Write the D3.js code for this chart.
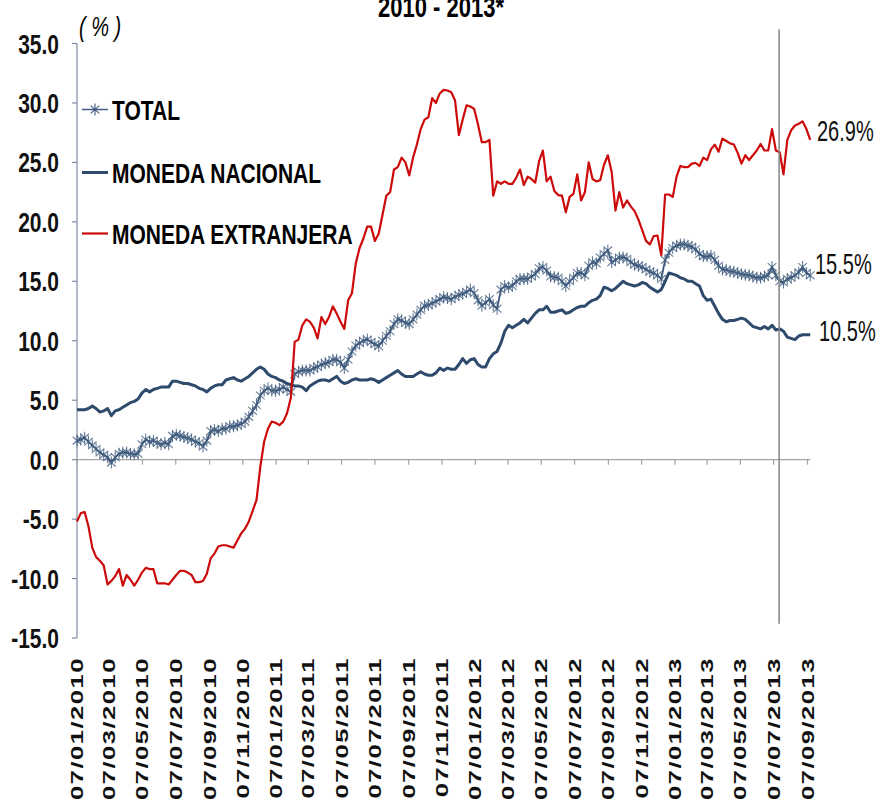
<!DOCTYPE html>
<html>
<head>
<meta charset="utf-8">
<script src="https://cdn.jsdelivr.net/npm/d3@7"></script>
<style>
  html, body { margin: 0; padding: 0; background: #fff; }
  svg { display: block; }
  text { font-family: "Liberation Sans", Arial, sans-serif; }
</style>
</head>
<body>
<svg id="chart" width="879" height="804"></svg>
<script>
// ---------- DATA ----------
const titleText = "2010 - 2013*";
const unitText = "( % )";
const startDate = "07/01/2010";           // first weekly observation
const xTickLabels = ["07/01/2010","07/03/2010","07/05/2010","07/07/2010","07/09/2010","07/11/2010",
  "07/01/2011","07/03/2011","07/05/2011","07/07/2011","07/09/2011","07/11/2011",
  "07/01/2012","07/03/2012","07/05/2012","07/07/2012","07/09/2012","07/11/2012",
  "07/01/2013","07/03/2013","07/05/2013","07/07/2013","07/09/2013"];
const yTicks = [-15, -10, -5, 0, 5, 10, 15, 20, 25, 30, 35];
const markerDate = "17/07/2013";          // vertical reference line
const seriesNames = ["TOTAL", "MONEDA NACIONAL", "MONEDA EXTRANJERA"];

const total = [
  1.6,1.7,1.85,1.5,1.2,0.9,0.6,0.4,0.2,-0.25,
  0.2,0.5,0.6,0.6,0.5,0.45,0.5,1.3,1.7,1.5,
  1.6,1.4,1.3,1.4,1.3,2.0,2.1,2.0,1.9,1.8,
  1.7,1.5,1.4,1.1,1.6,2.4,2.5,2.4,2.6,2.6,
  2.8,2.8,2.9,3.0,3.2,3.6,4.1,4.6,5.4,5.8,
  6.0,5.8,5.8,5.9,6.1,5.9,5.7,7.2,7.4,7.5,
  7.5,7.5,7.7,7.8,8.0,8.1,8.2,8.4,8.4,8.2,
  7.7,8.4,9.1,9.6,9.8,10.0,10.1,9.9,9.7,9.55,
  10.0,10.4,10.8,11.4,11.8,11.7,11.5,11.4,11.8,12.2,
  12.6,12.95,13.0,13.15,13.3,13.5,13.65,13.6,13.5,13.7,
  13.85,13.95,14.1,14.3,14.0,13.4,12.95,13.2,13.5,13.0,
  12.7,14.3,14.6,14.5,14.6,15.0,15.2,15.2,15.2,15.4,
  15.6,16.1,16.2,15.9,15.4,15.35,15.3,15.0,14.6,15.0,
  15.3,15.7,15.7,15.5,16.3,16.6,16.5,17.0,17.3,17.6,
  16.6,16.8,17.0,17.0,16.9,16.6,16.4,16.3,16.2,16.0,
  15.8,15.7,15.5,15.2,16.8,17.4,17.8,18.0,18.1,18.1,
  18.0,17.9,17.7,17.3,17.1,17.1,17.15,16.8,16.3,16.0,
  15.95,15.85,15.8,15.7,15.6,15.55,15.5,15.4,15.3,15.3,
  15.4,15.5,16.2,15.5,15.0,14.9,15.2,15.3,15.5,15.75,
  16.2,15.7,15.5
];
const monedaNacional = [
  4.2,4.2,4.2,4.3,4.5,4.3,4.0,4.1,4.3,3.7,
  4.1,4.2,4.4,4.6,4.8,4.9,5.1,5.6,5.9,5.7,
  5.9,6.0,6.1,6.1,6.1,6.6,6.6,6.5,6.4,6.4,
  6.3,6.2,6.0,5.9,5.7,6.0,6.2,6.3,6.3,6.7,
  6.8,6.9,6.7,6.6,6.8,7.0,7.3,7.6,7.8,7.6,
  7.2,7.0,6.9,6.7,6.6,6.4,6.3,6.2,6.2,6.1,
  5.8,6.2,6.4,6.6,6.7,6.7,6.6,6.8,7.0,6.6,
  6.4,6.5,6.7,6.8,6.7,6.7,6.7,6.8,6.7,6.5,
  6.7,6.9,7.1,7.3,7.5,7.2,7.0,7.0,7.0,7.2,
  7.4,7.2,7.1,7.1,7.3,7.7,7.5,7.7,7.6,7.6,
  8.0,8.5,8.1,8.4,8.5,8.0,7.8,7.8,8.5,8.9,
  9.1,9.8,10.8,11.3,11.1,11.3,11.5,11.8,11.5,11.9,
  12.3,12.6,12.6,12.9,12.4,12.4,12.5,12.6,12.3,12.4,
  12.6,12.8,12.9,12.9,13.2,13.4,13.5,13.8,14.5,14.4,
  14.2,14.4,14.7,15.0,14.8,14.7,14.6,14.7,14.9,14.8,
  14.5,14.3,14.1,14.3,15.0,15.7,15.6,15.5,15.3,15.2,
  15.0,15.0,14.8,14.6,13.8,13.4,13.5,12.9,12.3,11.8,
  11.6,11.7,11.7,11.8,11.9,11.8,11.5,11.2,11.1,11.0,
  11.2,11.0,11.3,10.9,11.0,10.8,10.3,10.2,10.1,10.4,
  10.5,10.5,10.5
];
const monedaExtranjera = [
  -5.2,-4.5,-4.4,-5.6,-7.4,-8.2,-8.5,-8.9,-10.5,-10.2,
  -9.8,-9.2,-10.6,-9.7,-10.1,-10.6,-10.1,-9.5,-9.1,-9.2,
  -9.2,-10.4,-10.4,-10.4,-10.5,-10.1,-9.7,-9.35,-9.35,-9.5,
  -9.7,-10.3,-10.3,-10.2,-9.6,-8.3,-7.9,-7.3,-7.2,-7.2,
  -7.3,-7.4,-6.8,-6.2,-5.8,-5.2,-4.3,-3.4,-0.6,1.5,
  2.6,3.2,3.1,2.9,3.2,3.9,5.2,9.9,10.1,11.3,
  11.8,11.6,11.1,10.2,12.0,11.4,12.0,12.9,12.3,11.6,
  11.0,13.4,14.0,16.5,17.8,18.6,19.6,19.6,18.4,19.0,
  20.6,22.2,22.5,24.4,24.6,25.4,25.0,23.9,25.4,26.5,
  27.8,28.6,28.8,30.4,30.0,30.8,31.1,31.05,30.9,30.2,
  27.3,28.6,29.8,29.7,29.5,28.2,26.7,26.7,26.9,22.2,
  23.4,23.2,23.4,23.2,23.2,23.7,24.4,23.1,23.8,23.6,
  23.3,25.1,26.0,23.4,23.8,22.6,22.25,22.2,20.8,22.1,
  22.35,24.0,21.8,22.5,25.0,23.6,23.4,23.5,24.8,25.6,
  24.2,20.95,22.5,21.2,21.8,21.3,20.9,20.2,19.3,18.4,
  18.1,18.8,18.85,17.2,22.3,22.3,22.1,23.8,24.7,24.6,
  24.6,24.9,24.95,24.7,25.4,25.2,26.1,26.5,25.9,27.0,
  26.8,26.6,26.5,25.8,24.9,25.6,25.2,25.6,26.0,26.55,
  26.0,26.0,27.8,26.0,25.85,24.0,26.9,27.7,28.1,28.25,
  28.45,27.8,26.9
];

// ---------- STYLE ----------
const colTotal = "#3d5879", colTotalMarker = "#405c80";
const colMN = "#2e4a6c";
const colME = "#cc0a0a";
const font = '"Liberation Sans", Arial, sans-serif';

// ---------- SCALES ----------
const parse = d3.utcParse("%d/%m/%Y");
const t0 = parse(startDate);
const dates = total.map((_, i) => d3.utcDay.offset(t0, 7 * i));
const tickDates = xTickLabels.map(parse);

const x = d3.scaleUtc()
  .domain([tickDates[0], tickDates[tickDates.length - 1]])
  .range([77, 807.5]);
const y = d3.scaleLinear().domain([-15, 35]).range([638, 43.5]);

const svg = d3.select("#chart");

function stext(parent, px, py, str, o) {
  const t = parent.append("text")
    .attr("transform", `translate(${px},${py})` + (o.rot ? ` rotate(${o.rot})` : "") + ` scale(${o.sx || 1},${o.sy || 1})`)
    .attr("font-family", font)
    .attr("font-size", o.size)
    .attr("font-weight", o.weight || "normal")
    .attr("font-style", o.style || "normal")
    .attr("text-anchor", o.anchor || "start")
    .attr("fill", o.fill || "#000")
    .text(str);
  if (o.ls) t.attr("letter-spacing", o.ls);
  return t;
}

// ---------- TITLE ----------
stext(svg, 441, 17, titleText, { size: 22, weight: "bold", sy: 1.35, anchor: "middle" });
stext(svg, 79, 36, unitText, { size: 20, weight: "normal", style: "italic", sy: 1.4 });

// ---------- AXES ----------
const yAxis = svg.append("g");
yAxis.append("line")
  .attr("x1", 77).attr("x2", 77)
  .attr("y1", y(35)).attr("y2", y(-15))
  .attr("stroke", "#7d8ca3").attr("stroke-width", 1.2);
yTicks.forEach(v => {
  yAxis.append("line")
    .attr("x1", 72).attr("x2", 77)
    .attr("y1", y(v)).attr("y2", y(v))
    .attr("stroke", "#7d8ca3").attr("stroke-width", 1.2);
  stext(yAxis, 59, y(v) + 10, v.toFixed(1), { size: 21, weight: "bold", sy: 1.35, anchor: "end", fill: "#111" });
});

const xAxis = svg.append("g");
xAxis.append("line")
  .attr("x1", x(dates[0])).attr("x2", x(dates[dates.length - 1]))
  .attr("y1", y(0)).attr("y2", y(0))
  .attr("stroke", "#a3a3a3").attr("stroke-width", 1.2);
tickDates.forEach((d, i) => {
  const xp = x(d);
  xAxis.append("line")
    .attr("x1", xp).attr("x2", xp)
    .attr("y1", y(0)).attr("y2", y(0) + 5)
    .attr("stroke", "#a3a3a3").attr("stroke-width", 1.2);
  stext(xAxis, xp + 6, 657, xTickLabels[i], { size: 16.8, weight: "bold", rot: -90, sx: 1.52, anchor: "end", ls: 1, fill: "#111" });
});

// ---------- SERIES ----------
const line = d3.line().x((d, i) => x(dates[i])).y(d => y(d));

svg.append("path").datum(total)
  .attr("d", line).attr("fill", "none")
  .attr("stroke", colTotal).attr("stroke-width", 1.8);

const rx = 4.3, ry = 6;
const starPath = `M${-rx},${-ry * 0.65}L${rx},${ry * 0.65}M${-rx},${ry * 0.65}L${rx},${-ry * 0.65}M0,${-ry}L0,${ry}`;
svg.append("g").selectAll("path").data(total).join("path")
  .attr("transform", (d, i) => `translate(${x(dates[i])},${y(d)})`)
  .attr("d", starPath)
  .attr("fill", "none")
  .attr("stroke", colTotalMarker).attr("stroke-width", 1.1).attr("stroke-opacity", 0.8);

svg.append("path").datum(monedaNacional)
  .attr("d", line).attr("fill", "none")
  .attr("stroke", colMN).attr("stroke-width", 3).attr("stroke-linejoin", "round");

svg.append("path").datum(monedaExtranjera)
  .attr("d", line).attr("fill", "none")
  .attr("stroke", colME).attr("stroke-width", 2.2).attr("stroke-linejoin", "round");

// vertical reference line
svg.append("line")
  .attr("x1", x(parse(markerDate))).attr("x2", x(parse(markerDate)))
  .attr("y1", y(36.2)).attr("y2", y(-13.8))
  .attr("stroke", "#8c8c8c").attr("stroke-width", 1.6);

// ---------- END LABELS ----------
const lastIdx = total.length - 1;
const endLab = [
  { v: monedaExtranjera[lastIdx], dy: 1, dx: 817 },
  { v: total[lastIdx], dy: -1, dx: 815 },
  { v: monedaNacional[lastIdx], dy: 6, dx: 819 }
];
endLab.forEach(e => {
  stext(svg, e.dx, y(e.v) + e.dy, e.v.toFixed(1) + "%", { size: 20, sy: 1.45, fill: "#111", weight: "500" });
});

// ---------- LEGEND ----------
const legY = [109.5, 172.5, 233.5];
const leg = svg.append("g");
leg.append("line").attr("x1", 82).attr("x2", 108).attr("y1", legY[0]).attr("y2", legY[0])
  .attr("stroke", colTotalMarker).attr("stroke-width", 1.5);
leg.append("path").attr("transform", `translate(95,${legY[0]})`).attr("d", starPath)
  .attr("fill", "none").attr("stroke", colTotalMarker).attr("stroke-width", 1.1);
leg.append("line").attr("x1", 82).attr("x2", 108).attr("y1", legY[1]).attr("y2", legY[1])
  .attr("stroke", colMN).attr("stroke-width", 3);
leg.append("line").attr("x1", 82).attr("x2", 108).attr("y1", legY[2]).attr("y2", legY[2])
  .attr("stroke", colME).attr("stroke-width", 2.2);
seriesNames.forEach((n, i) => {
  stext(leg, 112, legY[i] + 10, n, { size: 21, weight: "bold", sy: 1.36 });
});
</script>
</body>
</html>
